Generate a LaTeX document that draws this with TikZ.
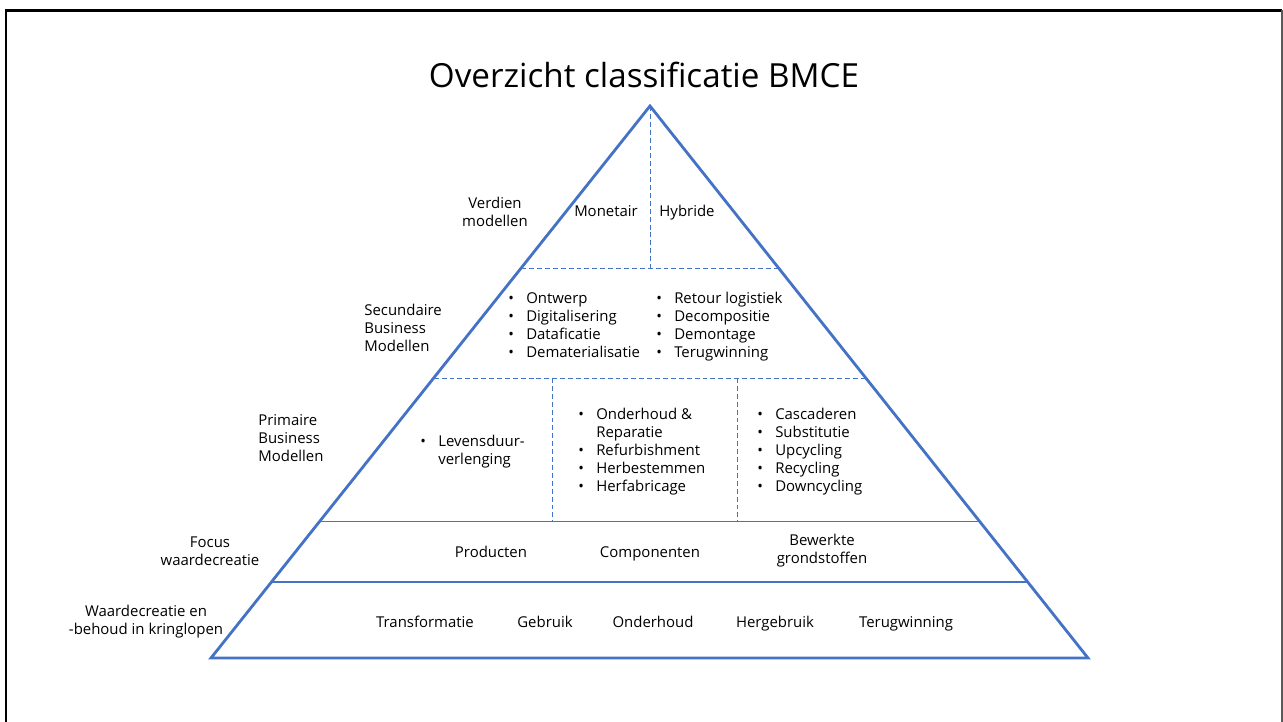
\documentclass[tikz,border=0pt]{standalone}
\usepackage{fontspec}
\setmainfont{Open Sans}
\usepackage{tikz}

\definecolor{pyrblue}{RGB}{68,114,196}
\newcommand{\itemlist}[1]{\begin{tabular}{@{}l@{\hspace{7pt}}l@{}}#1\end{tabular}}

\tikzset{
  outline/.style={pyrblue, line width=1.6pt, line join=miter},
  layer/.style={pyrblue, line width=0.6pt},
  divider/.style={pyrblue, line width=0.5pt, dash pattern=on 2.8pt off 1.7pt},
  lbl/.style={font=\fontsize{8.5}{10.2}\selectfont, inner sep=0pt, align=center},
  word/.style={lbl, text height=6.5pt, text depth=2pt},
  lst/.style={font=\fontsize{8.5}{10.2}\selectfont, inner sep=0pt, anchor=west}
}

\begin{document}
\begin{tikzpicture}[x=0.02cm, y=-0.02cm]
    \useasboundingbox (0,0) rectangle (1283,722);
    % frame
    \draw[line width=1.7pt]
(6,722) --
(6,10.5) --
(1282,10.5);
    \draw[gray!70!black, line width=0.8pt]
(1282,10.5) --
(1282,722);
    \node[font=\fontsize{18.9}{22}\selectfont, inner sep=0pt, text height=13.5pt, text depth=4pt] (title) at (644,79) {Overzicht classificatie BMCE};
    % pyramid
    \draw[outline]
(650,106) --
(1088,658) --
(211,658) --
cycle;
    \draw[divider]
(650,106) --
(650,268);
    \draw[divider]
(521.2,268) --
(778.5,268);
    \draw[divider]
(433.7,378) --
(865.8,378);
    \draw[divider]
(552,378) --
(552,521.5);
    \draw[divider]
(737,378) --
(737,521.5);
    \draw[layer]
(319.6,521.5) --
(979.7,521.5);
    \draw[layer]
(271.4,582) --
(1027.7,582);
    % left side labels
    \node[lbl] (verdien) at (495,212) {Verdien\\modellen};
    \node[lbl, align=left, anchor=west] (secundair) at (364,328) {Secundaire\\Business\\Modellen};
    \node[lbl, align=left, anchor=west] (primair) at (258,438) {Primaire\\Business\\Modellen};
    \node[lbl] (focus) at (210,551) {Focus\\waardecreatie};
    \node[lbl] (kringloop) at (146,622) {Waardecreatie en\\-behoud in kringlopen};
    % top layer
    \node[word] (monetair) at (606,213) {Monetair};
    \node[word] (hybride) at (687,213) {Hybride};
    % secondary layer
    \node[lst] (sec1) at (508,327) {\itemlist{
\textbullet & Ontwerp\\
\textbullet & Digitalisering\\
\textbullet & Dataficatie\\
\textbullet & Dematerialisatie}};
    \node[lst] (sec2) at (656,327) {\itemlist{
\textbullet & Retour logistiek\\
\textbullet & Decompositie\\
\textbullet & Demontage\\
\textbullet & Terugwinning}};
    % primary layer
    \node[lst] (prim1) at (420,452) {\itemlist{
\textbullet & Levensduur-\\
 & verlenging}};
    \node[lst] (prim2) at (578,452) {\itemlist{
\textbullet & Onderhoud \&\\
 & Reparatie\\
\textbullet & Refurbishment\\
\textbullet & Herbestemmen\\
\textbullet & Herfabricage}};
    \node[lst] (prim3) at (757,452) {\itemlist{
\textbullet & Cascaderen\\
\textbullet & Substitutie\\
\textbullet & Upcycling\\
\textbullet & Recycling\\
\textbullet & Downcycling}};
    % focus layer
    \node[word] (producten) at (491,554) {Producten};
    \node[word] (componenten) at (650,554) {Componenten};
    \node[lbl] (grondstoffen) at (822,551) {Bewerkte\\grondstoffen};
    % bottom layer
    \node[word] (transformatie) at (425,624) {Transformatie};
    \node[word] (gebruik) at (545,624) {Gebruik};
    \node[word] (onderhoud) at (653,624) {Onderhoud};
    \node[word] (hergebruik) at (775,624) {Hergebruik};
    \node[word] (terugwinning) at (906,624) {Terugwinning};
\end{tikzpicture}
\end{document}
